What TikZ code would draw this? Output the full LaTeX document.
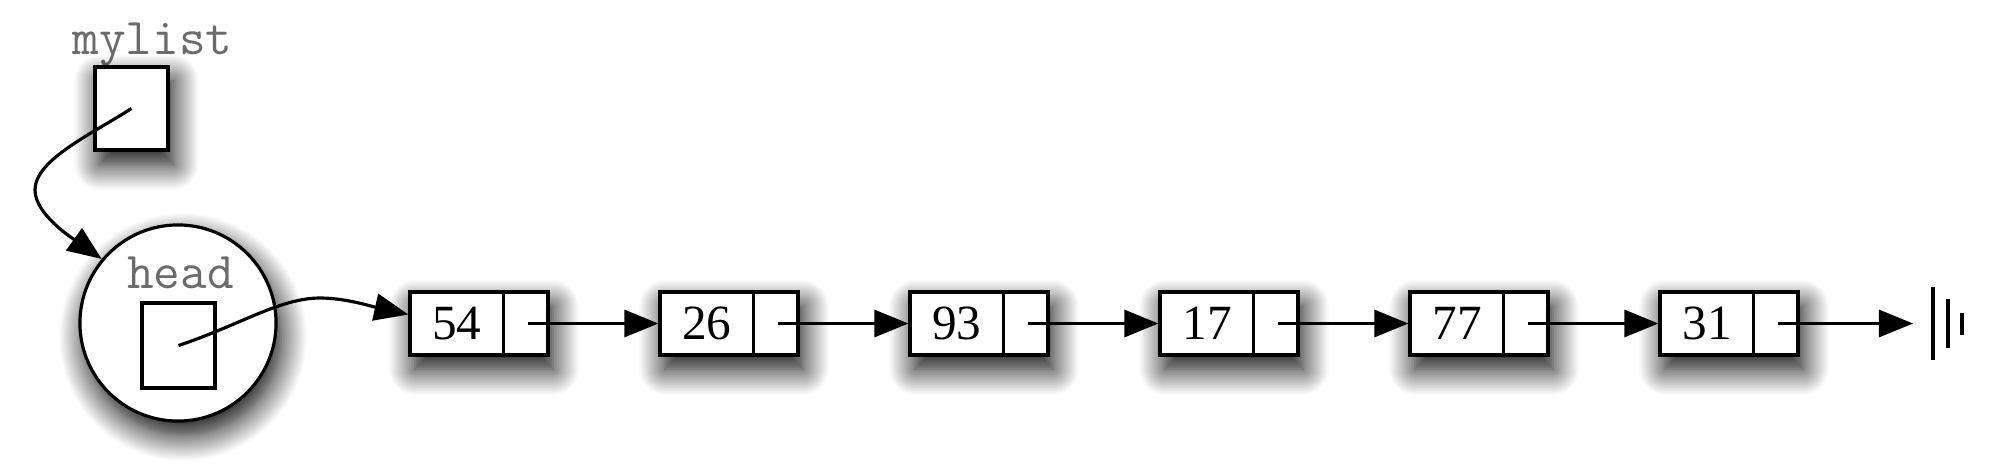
\documentclass[tikz,border=0pt]{standalone}
\usepackage{fontspec}
\setmainfont{Liberation Serif}
\usetikzlibrary{arrows.meta,shadows.blur}
\begin{document}
\begin{tikzpicture}[x=0.01cm,y=-0.01cm,
 shd/.style={blur shadow={shadow xshift=0.05cm,shadow yshift=-0.14cm,shadow blur radius=0.26cm,shadow opacity=100,shadow blur steps=16}},
 listnode/.style={draw,line width=0.9pt,fill=white,minimum width=1.38cm,minimum height=0.63cm,inner sep=0pt,shd},
 refbox/.style={draw,line width=0.9pt,fill=white,minimum width=0.73cm,minimum height=0.83cm,inner sep=0pt},
 headcircle/.style={circle,draw,line width=0.9pt,fill=white,minimum size=1.96cm,inner sep=0pt,shd},
 valtext/.style={font=\fontsize{14}{16}\selectfont,inner sep=0pt},
 vartext/.style={font=\ttfamily\fontsize{14.7}{17}\selectfont,text=black!58,inner sep=0pt,anchor=base},
 ptr/.style={line width=0.9pt,-{Triangle[length=0.34cm,width=0.27cm]}},
 divider/.style={line width=0.9pt},
 bar/.style={line width=1.1pt}]
\useasboundingbox (0,0) rectangle (2000,463);
% mylist variable
\node[vartext] (mlt) at (152.5,54) {mylist};
\node[refbox,shd] (ml) at (131.5,108.5) {};
% head object
\node[headcircle] (hc) at (178,323) {};
\node[vartext] (ht) at (180.5,288) {head};
\node[refbox,minimum height=0.85cm] (hb) at (178.5,345.5) {};
% list nodes
\foreach \v [count=\i] in {54,26,93,17,77,31} {
  \node[listnode] (n\i) at ({479+250*(\i-1)},323.5) {};
  \node[valtext] (t\i) at ([xshift=-0.22cm]n\i.center) {\v};
  \draw[divider] ([xshift=0.95cm]n\i.north west) -- ([xshift=0.95cm]n\i.south west);
  \coordinate (s\i) at ([xshift=-0.215cm]n\i.east);
}
% ground
\coordinate (gnd) at (1933,323.5);
% connectors
\draw[ptr] (ml.center) .. controls (90,135) and (35,160) .. (35,190)
           .. controls (35,215) and (75,240) .. (hc.140);
\draw[ptr] (hb.center) .. controls (240,325) and (280,298) .. (320,298)
           .. controls (345,298) and (370,306) .. ([yshift=0.09cm]n1.west);
\foreach \i/\j in {1/2,2/3,3/4,4/5,5/6} \draw[ptr] (s\i) -- (n\j.west);
\draw[ptr] (s6) -- ([xshift=-0.2cm]gnd);
\draw[bar] ([yshift=0.365cm]gnd) -- ([yshift=-0.365cm]gnd);
\draw[bar] ([xshift=0.15cm,yshift=0.24cm]gnd) -- ([xshift=0.15cm,yshift=-0.24cm]gnd);
\draw[bar] ([xshift=0.29cm,yshift=0.11cm]gnd) -- ([xshift=0.29cm,yshift=-0.11cm]gnd);
\end{tikzpicture}
\end{document}
